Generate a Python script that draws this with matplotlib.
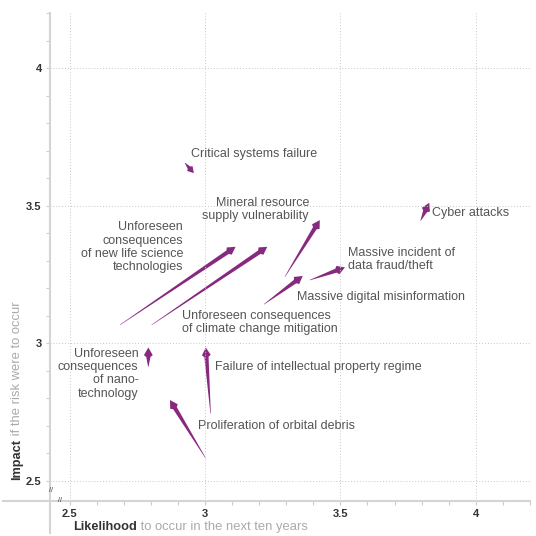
import numpy as np
import matplotlib
matplotlib.use('Agg')
import matplotlib.pyplot as plt
from matplotlib.patches import Polygon
from matplotlib.transforms import IdentityTransform

plt.rcParams['font.family'] = ['Liberation Sans', 'DejaVu Sans']

# risk names, start (tail) and end (head) of each arrow
risks = ['Critical systems failure',
         'Unforeseen\nconsequences\nof new life science\ntechnologies',
         'Unforeseen consequences\nof climate change mitigation',
         'Mineral resource\nsupply vulnerability',
         'Massive digital misinformation',
         'Massive incident of\ndata fraud/theft',
         'Cyber attacks',
         'Unforeseen\nconsequences\nof nano-\ntechnology',
         'Failure of intellectual property regime',
         'Proliferation of orbital debris']
x_start = [2.926, 2.686, 2.803, 3.295, 3.218, 3.387, 3.796, 2.791, 3.021, 3.003]
y_start = [3.656, 3.067, 3.067, 3.242, 3.142, 3.230, 3.446, 2.915, 2.745, 2.582]
x_end = [2.959, 3.113, 3.230, 3.424, 3.361, 3.517, 3.828, 2.791, 3.003, 2.871]
y_end = [3.619, 3.351, 3.351, 3.448, 3.245, 3.276, 3.511, 2.985, 2.985, 2.794]

# label anchor positions (layout)
label_pos = [(2.948, 3.688, 'left'), (2.919, 3.350, 'right'), (2.914, 3.077, 'left'),
             (3.384, 3.487, 'right'), (3.338, 3.169, 'left'), (3.529, 3.305, 'left'),
             (3.840, 3.473, 'left'), (2.754, 2.889, 'right'), (3.037, 2.913, 'left'),
             (2.973, 2.700, 'left')]

major = [2.5, 3, 3.5, 4]
major_lbl = ['2.5', '3', '3.5', '4']

purple = '#86297f'
W, H = 536, 536
fig = plt.figure(figsize=(W / 100, H / 100), dpi=100)
ax = fig.add_axes([50 / W, 1 - 501 / H, 480 / W, 488 / H])
ax.set_xlim(2.428, 4.199)
ax.set_ylim(2.427, 4.201)
for s in ax.spines.values():
    s.set_visible(False)

ax.set_xticks(major)
ax.set_xticklabels(major_lbl)
ax.set_yticks(major)
ax.set_yticklabels(major_lbl)
ax.set_xticks(np.arange(2.5, 4.21, 0.1), minor=True)
ax.set_yticks(np.arange(2.5, 4.21, 0.1), minor=True)
ax.tick_params(which='both', length=3, width=0.8, color='#cccccc', direction='out')
ax.tick_params(axis='both', labelsize=8, labelcolor='#333333', pad=3)
for t in ax.get_xticklabels() + ax.get_yticklabels():
    t.set_fontweight('bold')
ax.grid(True, which='major', linestyle=(0, (1, 2)), linewidth=0.7, color='#c8c8c8')

# spines that cross past the origin
ax.plot([0, 0], [-0.066, 1.0], transform=ax.transAxes, color='#d4d4d4', lw=1.5, clip_on=False)
ax.plot([-0.098, 1.0], [0, 0], transform=ax.transAxes, color='#d4d4d4', lw=1.5, clip_on=False)
fig.text(51 / W, 1 - 490 / H, '//', fontsize=5, color='#333333', ha='center', va='center')
fig.text(60 / W, 1 - 500 / H, '//', fontsize=5, color='#333333', ha='center', va='center')

# tapered arrows drawn in pixel space
p0 = ax.transData.transform(np.column_stack([x_start, y_start]))
p1 = ax.transData.transform(np.column_stack([x_end, y_end]))
for a, b in zip(p0, p1):
    d = b - a
    L = np.hypot(*d)
    u = d / L
    n = np.array([-u[1], u[0]])
    hl = min(9.5, 0.55 * L)
    hw = 0.4 * hl + 0.6
    sw = min(2.1, 0.12 * L)
    base = b - u * hl
    neck = b - u * hl * 0.8
    pts = [a + n * 0.2, base + n * sw, neck + n * hw, b,
           neck - n * hw, base - n * sw, a - n * 0.2]
    ax.add_patch(Polygon(pts, closed=True, transform=IdentityTransform(),
                         facecolor=purple, edgecolor='none', clip_on=False))

for name, (lx, ly, ha) in zip(risks, label_pos):
    ax.text(lx, ly, name, ha=ha, va='center', fontsize=9, color='#555555',
            linespacing=1.12, multialignment=ha)

t1 = fig.text(73 / W, 1 - 527 / H, 'Likelihood', fontsize=9.2, fontweight='bold',
              color='#333333', ha='left', va='center')
ax.annotate(' to occur in the next ten years', xy=(1, 0.5), xycoords=t1,
            fontsize=9.4, color='#aaaaaa', ha='left', va='center', annotation_clip=False)

t2 = fig.text(17 / W, 1 - 480 / H, 'Impact', fontsize=9.2, fontweight='bold',
              color='#333333', ha='center', va='bottom', rotation=90)
ax.annotate(' if the risk were to occur', xy=(0.5, 1), xycoords=t2,
            fontsize=9.4, color='#aaaaaa', ha='center', va='bottom', rotation=90,
            annotation_clip=False)

fig.savefig('out.png', dpi=100)
